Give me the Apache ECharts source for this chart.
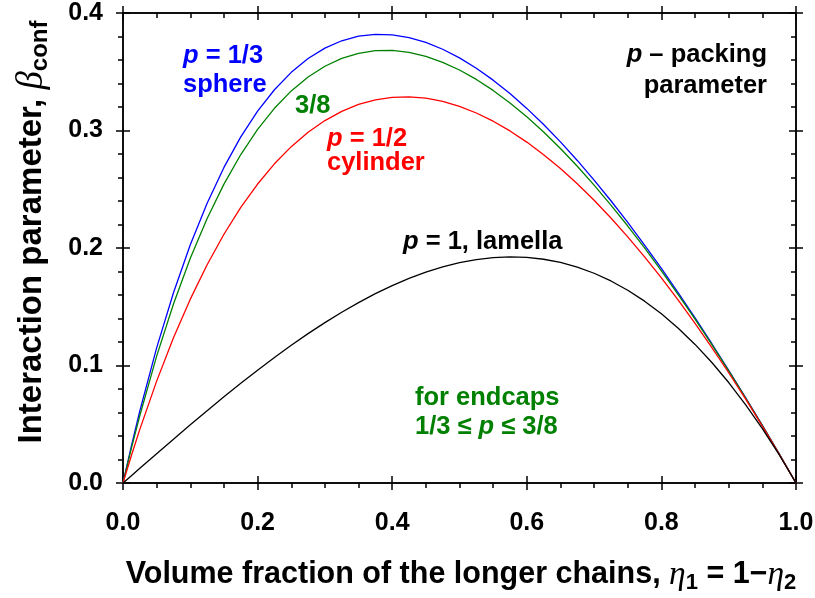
<!DOCTYPE html>
<html><head><meta charset="utf-8">
<script src="https://cdn.jsdelivr.net/npm/echarts@6/dist/echarts.min.js"></script>
<style>html,body{margin:0;padding:0;background:#fff}#c{width:815px;height:598px}</style>
</head><body><div id="c"></div>
<script>
// Volume fraction of the longer chains (x)
const eta = [0, 0.0125, 0.025, 0.05, 0.075, 0.1, 0.125, 0.15, 0.175, 0.2, 0.225, 0.25, 0.275, 0.3, 0.325, 0.35, 0.375, 0.4, 0.425, 0.45, 0.475, 0.5,
             0.525, 0.55, 0.575, 0.6, 0.625, 0.65, 0.675, 0.7, 0.725, 0.75, 0.775, 0.8, 0.825, 0.85, 0.875, 0.9, 0.925, 0.95, 0.975, 1.0];
// Interaction parameter beta_conf, p = 1/3 (sphere)
const betaSphere = [0, 0.03167, 0.06133, 0.11504, 0.16196, 0.20279, 0.23816, 0.26859, 0.29456, 0.31646, 0.33466, 0.34949, 0.36122, 0.37011, 0.37638, 0.38024, 0.38188, 0.38144, 0.37908, 0.37494, 0.36914, 0.36179,
                    0.35300, 0.34285, 0.33142, 0.31881, 0.30508, 0.29029, 0.27451, 0.25780, 0.24020, 0.22176, 0.20254, 0.18256, 0.16188, 0.14053, 0.11853, 0.09593, 0.07275, 0.04901, 0.02476, 0];
// p = 3/8 (endcaps)
const betaEndcap = [0, 0.02961, 0.05741, 0.10796, 0.15236, 0.19121, 0.22506, 0.25437, 0.27956, 0.30096, 0.31891, 0.33369, 0.34554, 0.35470, 0.36137, 0.36572, 0.36793, 0.36814, 0.36648, 0.36308, 0.35804, 0.35147,
                    0.34347, 0.33412, 0.32348, 0.31165, 0.29867, 0.28462, 0.26954, 0.25350, 0.23654, 0.21870, 0.20003, 0.18055, 0.16033, 0.13938, 0.11772, 0.09541, 0.07245, 0.04888, 0.02473, 0];
// p = 1/2 (cylinder)
const betaCylinder = [0, 0.02342, 0.04565, 0.08671, 0.12354, 0.15647, 0.18577, 0.21172, 0.23455, 0.25445, 0.27164, 0.28626, 0.29849, 0.30846, 0.31631, 0.32215, 0.32609, 0.32823, 0.32866, 0.32747, 0.32473, 0.32051,
                      0.31489, 0.30791, 0.29964, 0.29014, 0.27943, 0.26758, 0.25463, 0.24061, 0.22555, 0.20950, 0.19248, 0.17452, 0.15566, 0.13590, 0.11528, 0.09383, 0.07155, 0.04848, 0.02462, 0];
// p = 1 (lamella)
const betaLamella = [0, 0.00625, 0.01249, 0.02494, 0.03729, 0.04950, 0.06152, 0.07331, 0.08482, 0.09600, 0.10680, 0.11719, 0.12710, 0.13650, 0.14534, 0.15356, 0.16113, 0.16800, 0.17412, 0.17944, 0.18391, 0.18750,
                     0.19015, 0.19181, 0.19245, 0.19200, 0.19043, 0.18769, 0.18373, 0.17850, 0.17196, 0.16406, 0.15476, 0.14400, 0.13174, 0.11794, 0.10254, 0.08550, 0.06677, 0.04631, 0.02407, 0];
// Axis ranges / ticks
const xRange = [0, 1.0], xStep = 0.2, xMinor = 4;
const yRange = [0, 0.4], yStep = 0.1, yMinor = 5;

const pairs = (ys) => eta.map((x, i) => [x, ys[i]]);
const SANS = '"Liberation Sans", Arial, sans-serif';
const SERIF = '"Liberation Serif", "Times New Roman", serif';
const lineStyle = { color: '#000', width: 1.5 };

function xAx(grid, pos, inside, withLabels, minor) {
  return {
    type: 'value', gridIndex: grid, position: pos, min: xRange[0], max: xRange[1], interval: xStep,
    axisLine: { show: true, onZero: false, lineStyle },
    axisTick: { show: true, inside, length: 7, lineStyle },
    minorTick: { show: minor, splitNumber: xMinor, length: 5, lineStyle },
    splitLine: { show: false }, minorSplitLine: { show: false },
    axisLabel: { show: withLabels, margin: 28, color: '#000', fontFamily: SANS, fontWeight: 'bold', fontSize: 25,
      formatter: v => v.toFixed(1) }
  };
}
function yAx(grid, pos, inside, withLabels, minor) {
  return {
    type: 'value', gridIndex: grid, position: pos, min: yRange[0], max: yRange[1], interval: yStep,
    axisLine: { show: true, onZero: false, lineStyle },
    axisTick: { show: true, inside, length: 7, lineStyle },
    minorTick: { show: minor, splitNumber: yMinor, length: 5, lineStyle },
    splitLine: { show: false }, minorSplitLine: { show: false },
    axisLabel: { show: withLabels, margin: 20, color: '#000', fontFamily: SANS, fontWeight: 'bold', fontSize: 25,
      formatter: v => v.toFixed(1) }
  };
}

const gridRect = { left: 123, right: 19, top: 13, bottom: 115, containLabel: false, outerBoundsMode: 'none' };
const ANN = { fontFamily: SANS, fontWeight: 'bold', fontSize: 25.5 };
function ann(text, x, y, color, align) {
  return { type: 'text', x, y, z: 10, style: Object.assign({
    text, fill: color, align: align || 'left', verticalAlign: 'middle',
    rich: { i: Object.assign({}, ANN, { fontStyle: 'italic', fill: color }) }
  }, ANN) };
}

const chart = echarts.init(document.getElementById('c'), null, { renderer: 'canvas' });
chart.setOption({
  backgroundColor: '#fff',
  animation: false,
  grid: [gridRect, Object.assign({}, gridRect)],
  xAxis: [xAx(0, 'bottom', false, true, true), xAx(0, 'top', true, false, true),
          xAx(1, 'bottom', true, false, false), xAx(1, 'top', false, false, false)],
  yAxis: [yAx(0, 'left', false, true, true), yAx(0, 'right', true, false, true),
          yAx(1, 'left', true, false, false), yAx(1, 'right', false, false, false)],
  series: [
    { name: 'p = 1/3', data: pairs(betaSphere), color: '#0000ff' },
    { name: 'p = 3/8', data: pairs(betaEndcap), color: '#008000' },
    { name: 'p = 1/2', data: pairs(betaCylinder), color: '#ff0000' },
    { name: 'p = 1', data: pairs(betaLamella), color: '#000000' }
  ].map(s => ({ type: 'line', xAxisIndex: 0, yAxisIndex: 0, name: s.name, data: s.data, smooth: false,
      showSymbol: false, lineStyle: { color: s.color, width: 1.3 }, itemStyle: { color: s.color } })),
  graphic: [
    ann('{i|p} = 1/3', 183, 56, '#0000ff'),
    ann('sphere', 183, 85, '#0000ff'),
    ann('3/8', 295, 106, '#008000'),
    ann('{i|p} = 1/2', 327, 139, '#ff0000'),
    ann('cylinder', 327, 163, '#ff0000'),
    ann('{i|p} \u2013 packing', 767, 55, '#000', 'right'),
    ann('parameter', 767, 86, '#000', 'right'),
    ann('{i|p} = 1, lamella', 403, 242, '#000'),
    ann('for endcaps', 415, 398, '#008000'),
    ann('1/3 \u2264 {i|p} \u2264 3/8', 415, 427, '#008000'),
    { type: 'text', x: 461, y: 575, z: 10, style: {
        text: '{n|Volume fraction of the longer chains, }{g|\u03b7}{s|1}{n| = 1\u2212}{g|\u03b7}{s|2}',
        align: 'center', verticalAlign: 'middle', fill: '#000',
        rich: {
          n: { fontFamily: SANS, fontWeight: 'bold', fontSize: 30.5, lineHeight: 38, verticalAlign: 'middle', fill: '#000' },
          g: { fontFamily: SERIF, fontStyle: 'italic', fontSize: 33.5, lineHeight: 38, verticalAlign: 'middle', fill: '#000' },
          s: { fontFamily: SANS, fontWeight: 'bold', fontSize: 22, lineHeight: 22, verticalAlign: 'bottom', fill: '#000' }
        } } },
    { type: 'text', x: 32, y: 232, rotation: Math.PI / 2, z: 10, style: {
        text: '{n|Interaction parameter, }{g|\u03b2}{s|conf}',
        align: 'center', verticalAlign: 'middle', fill: '#000',
        rich: {
          n: { fontFamily: SANS, fontWeight: 'bold', fontSize: 33, lineHeight: 40, verticalAlign: 'middle', fill: '#000' },
          g: { fontFamily: SERIF, fontStyle: 'italic', fontSize: 37, lineHeight: 40, verticalAlign: 'middle', fill: '#000' },
          s: { fontFamily: SANS, fontWeight: 'bold', fontSize: 24, lineHeight: 24, verticalAlign: 'bottom', fill: '#000' }
        } } }
  ]
});
</script>
</body></html>
